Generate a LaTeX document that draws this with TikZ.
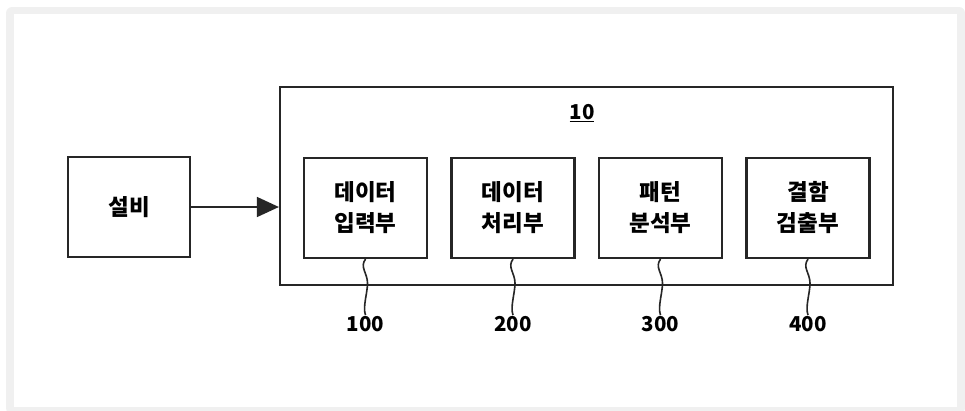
\documentclass[tikz,border=0pt]{standalone}
\usepackage{fontspec}
\newfontfamily\kr{Noto Sans CJK KR}
\usetikzlibrary{arrows.meta}

\begin{document}
\begin{tikzpicture}[x=1pt, y=-1pt,
    box/.style={draw=black!85, line width=2.2pt, minimum width=122pt, minimum height=100pt,
      align=center, font=\kr\bfseries\fontsize{22.5}{31}\selectfont},
    unit/.style={box, minimum width=123pt},
    refnum/.style={font=\kr\bfseries\fontsize{20.5}{24}\selectfont, inner sep=1pt},
    lead/.style={draw=black!85, line width=1.6pt}]
            % frame
            \useasboundingbox (0,0) rectangle (965,410);
            \fill[gray!12, rounded corners=6pt] (6,7) rectangle (965,414);
            \fill[white] (14,14) rectangle (957,407);

            \node[box] (eq) at (129,207) {설비};
            \node[box, minimum width=613pt, minimum height=198pt] (sys) at (586.5,186) {};
            \node[refnum] (n10) at (582,113) {\underline{10}};

            \node[unit] (in) at (365.5,208) {데이터\\입력부};
            \node[unit] (proc) at (513,208) {데이터\\처리부};
            \node[unit] (pat) at (660.5,208) {패턴\\분석부};
            \node[unit] (det) at (808,208) {결함\\검출부};

            \node[refnum] (n100) at (365.5,324) {100};
            \node[refnum] (n200) at (513,324) {200};
            \node[refnum] (n300) at (660.5,324) {300};
            \node[refnum] (n400) at (808,324) {400};

            \draw[lead, -{Triangle[length=22pt, width=20pt]}] (eq.east) -- (eq.east -| sys.west);
            \draw[lead] (in.south) .. controls +(-6,8) and +(0,-10) .. ++(2,24) .. controls +(0,10) and +(-3,-8) .. (n100.north);
            \draw[lead] (proc.south) .. controls +(-6,8) and +(0,-10) .. ++(2,24) .. controls +(0,10) and +(-3,-8) .. (n200.north);
            \draw[lead] (pat.south) .. controls +(-6,8) and +(0,-10) .. ++(2,24) .. controls +(0,10) and +(-3,-8) .. (n300.north);
            \draw[lead] (det.south) .. controls +(-6,8) and +(0,-10) .. ++(2,24) .. controls +(0,10) and +(-3,-8) .. (n400.north);
        \end{tikzpicture}
\end{document}
